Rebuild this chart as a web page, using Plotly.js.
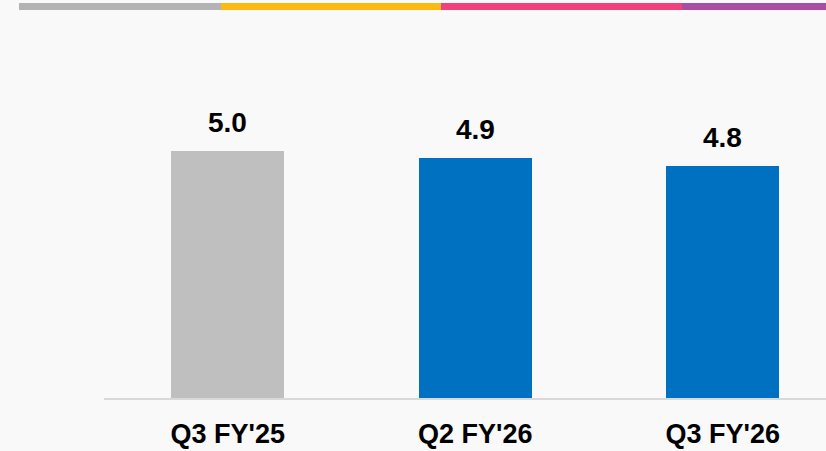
<!DOCTYPE html>
<html><head><meta charset="utf-8">
<script src="https://cdn.plot.ly/plotly-3.0.1.min.js"></script>
<style>html,body{margin:0;padding:0;background:#f9f9f9;}#chart{width:826px;height:451px;}</style>
</head><body><div id="chart"></div>
<script>
const categories = ["Q3 FY'25", "Q2 FY'26", "Q3 FY'26"];
const values = [5.0, 4.9, 4.8];
const valueLabels = ["5.0", "4.9", "4.8"];
const barColors = ["#bfbfbf", "#0070c0", "#0070c0"];

const W = 826, H = 451, ML = 104, MR = 0, MT = 40, MB = 53;
const PW = W - ML - MR, PH = H - MT - MB;
const px2x = p => (p - ML) / PW;
const py2y = p => (H - MB - p) / PH;

const stripe = [
  {x0: 19, x1: 221, c: "#b3b3b3"},
  {x0: 221, x1: 441, c: "#fdb913"},
  {x0: 441, x1: 682, c: "#f2417a"},
  {x0: 682, x1: 826, c: "#ab4ca3"}
];
const shapes = stripe.map(s => ({
  type: "rect", xref: "paper", yref: "paper", layer: "above",
  x0: px2x(s.x0), x1: px2x(s.x1), y0: py2y(10), y1: py2y(3),
  fillcolor: s.c, line: {width: 0}
}));

const annotations = categories.map((c, i) => ({
  x: c, y: values[i], xref: "x", yref: "y", text: valueLabels[i],
  showarrow: false, yanchor: "bottom", yshift: 11,
  font: {family: "Liberation Sans, Arial, sans-serif", size: 28, color: "#000", weight: "bold"}
}));

const trace = {
  type: "bar", x: categories, y: values,
  marker: {color: barColors, line: {width: 0}},
  width: 0.457, hoverinfo: "none"
};

const layout = {
  width: W, height: H,
  margin: {l: ML, r: MR, t: MT, b: MB, pad: 0},
  paper_bgcolor: "#f9f9f9", plot_bgcolor: "rgba(0,0,0,0)",
  showlegend: false,
  bargap: 0,
  xaxis: {
    type: "category", range: [-0.5, -0.5 + PW / 247.5],
    showline: true, linecolor: "#d9d9d9", linewidth: 2,
    showgrid: false, zeroline: false, ticks: "", ticklabelstandoff: 11,
    tickfont: {family: "Liberation Sans, Arial, sans-serif", size: 27, color: "#000", weight: "bold"}
  },
  yaxis: {
    range: [1.7, 1.7 + PH / 74.94], visible: false, showgrid: false, zeroline: false
  },
  shapes: shapes,
  annotations: annotations
};

Plotly.newPlot("chart", [trace], layout, {staticPlot: true, displayModeBar: false});
</script></body></html>
